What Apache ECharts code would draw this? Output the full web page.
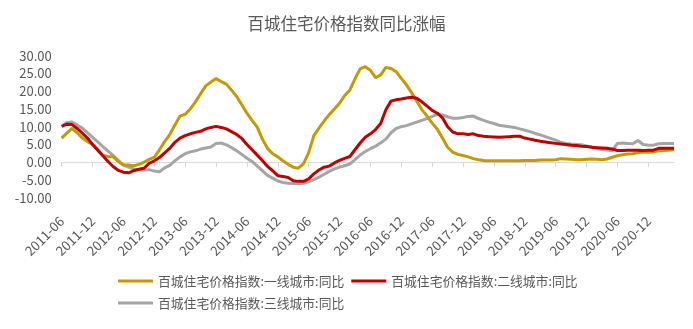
<!DOCTYPE html>
<html>
<head>
<meta charset="utf-8">
<script src="https://cdn.jsdelivr.net/npm/echarts@6/dist/echarts.min.js"></script>
<style>html,body{margin:0;padding:0;background:#fff;}#c{width:693px;height:329px;}</style>
</head>
<body>
<div id="c"></div>
<script>
const categories = [];
for (let y = 2011, m = 6; categories.length < 120; ) {
  categories.push(y + '-' + (m < 10 ? '0' + m : '' + m));
  m++; if (m > 12) { m = 1; y++; }
}
const seriesNames = ['百城住宅价格指数:一线城市:同比', '百城住宅价格指数:二线城市:同比', '百城住宅价格指数:三线城市:同比'];
const tier1 = [6.8,8.2,9.5,8.3,6.8,5.8,5.0,3.5,1.9,1.6,1.5,0.2,-0.8,-0.8,-1.0,-0.6,0.0,0.8,1.4,3.5,
  5.8,7.8,10.5,13.0,13.5,15.0,17.0,19.3,21.5,22.6,23.6,22.7,22.0,20.3,18.5,16.2,13.8,11.8,9.9,6.5,
  3.9,2.4,1.5,0.4,-0.6,-1.4,-1.7,-0.4,2.7,7.5,9.6,11.6,13.4,15.0,16.6,18.8,20.3,23.5,26.3,26.9,
  25.9,23.8,24.6,26.7,26.4,25.5,23.6,21.8,19.6,17.2,14.8,13.0,11.0,9.3,6.8,4.2,2.8,2.2,1.9,1.5,
  1.0,0.7,0.5,0.4,0.4,0.4,0.4,0.4,0.4,0.4,0.5,0.5,0.5,0.6,0.6,0.6,0.7,1.0,0.9,0.8,
  0.7,0.7,0.8,0.9,0.8,0.7,0.9,1.4,1.8,2.1,2.3,2.4,2.7,2.8,2.8,2.9,3.2,3.3,3.4,3.5];
const tier2 = [10.1,10.7,10.6,9.5,8.2,6.8,5.0,3.4,1.8,0.2,-1.2,-2.3,-2.8,-3.0,-2.4,-2.0,-1.7,-0.3,0.4,1.3,
  2.6,3.9,5.6,6.8,7.5,8.0,8.4,8.7,9.4,9.8,10.1,9.8,9.4,8.6,7.8,6.7,5.0,3.5,2.0,0.5,
  -1.2,-2.4,-3.8,-4.0,-4.3,-5.2,-5.4,-5.4,-4.7,-3.3,-2.2,-1.4,-1.1,-0.2,0.5,1.1,1.6,3.5,5.4,7.0,
  8.0,9.2,10.9,14.8,17.2,17.6,17.8,18.1,18.3,18.0,17.0,15.8,14.6,13.8,12.5,10.0,8.5,8.0,8.0,7.8,
  8.0,7.5,7.3,7.2,7.1,7.0,7.1,7.2,7.3,7.3,6.8,6.5,6.2,5.9,5.7,5.5,5.3,5.1,5.0,4.8,
  4.7,4.5,4.4,4.2,4.1,4.0,3.9,3.7,3.3,3.3,3.4,3.4,3.4,3.3,3.4,3.4,3.9,3.9,3.9,3.9];
const tier3 = [10.1,11.2,11.3,10.5,9.6,8.3,7.0,5.7,4.4,3.1,1.9,0.5,-0.8,-1.4,-1.9,-2.1,-2.2,-2.1,-2.5,-2.7,
  -1.6,-0.9,0.4,1.5,2.4,2.9,3.2,3.7,4.0,4.3,5.3,5.4,4.9,4.1,3.2,2.2,1.1,0.2,-1.1,-2.4,
  -3.7,-4.5,-5.3,-5.7,-5.9,-6.0,-6.1,-5.9,-5.5,-4.9,-4.2,-3.4,-2.6,-1.9,-1.4,-1.0,-0.5,0.7,2.0,3.0,
  3.8,4.5,5.5,6.5,8.3,9.5,10.0,10.3,10.8,11.3,11.8,12.3,12.9,13.5,13.3,12.8,12.4,12.4,12.6,12.9,
  13.0,12.3,11.8,11.3,10.9,10.4,10.2,10.0,9.8,9.4,9.0,8.6,8.1,7.7,7.2,6.7,6.2,5.6,5.3,5.1,
  5.0,4.9,4.6,4.3,3.9,3.6,3.4,3.2,5.3,5.4,5.3,5.2,6.1,5.0,4.8,4.8,5.2,5.3,5.3,5.3];
const yTicks = { min: -10, max: 30, interval: 5 };
const colors = ['#C49A00', '#C00000', '#A5A5A5'];
const seriesData = [tier1, tier2, tier3];

const font = '"Noto Sans CJK SC", "Microsoft YaHei", sans-serif';
const chart = echarts.init(document.getElementById('c'), null, { renderer: 'canvas' });
chart.setOption({
  animation: false,
  backgroundColor: '#ffffff',
  textStyle: { fontFamily: font },
  title: {
    text: '百城住宅价格指数同比涨幅',
    left: 'center', top: 10,
    textStyle: { fontFamily: font, fontSize: 16.5, fontWeight: 'normal', color: '#595959' }
  },
  legend: {
    left: 113, top: 268.5, width: 500,
    itemWidth: 35, itemHeight: 3, itemGap: 7,
    icon: 'rect',
    textStyle: { fontFamily: font, fontSize: 12.8, color: '#595959', lineHeight: 15 },
    data: seriesNames
  },
  grid: { left: 61.7, right: 19, top: 55.7, bottom: 131.3, containLabel: false },
  xAxis: [
    {
      type: 'category', data: categories, boundaryGap: false,
      axisLine: { onZero: true, lineStyle: { color: '#D9D9D9', width: 1 } },
      axisTick: { show: true, interval: 5, length: 5, lineStyle: { color: '#D9D9D9' } },
      axisLabel: { show: false },
      splitLine: { show: false }
    },
    {
      type: 'category', data: categories, boundaryGap: false, position: 'bottom',
      axisLine: { show: false, onZero: false },
      axisTick: { show: false },
      axisLabel: { interval: 5, rotate: 45, margin: 21, fontSize: 13.3, color: '#595959', fontFamily: font },
      splitLine: { show: false }
    }
  ],
  yAxis: {
    type: 'value', min: yTicks.min, max: yTicks.max, interval: yTicks.interval,
    axisLine: { show: false }, axisTick: { show: false }, splitLine: { show: false },
    axisLabel: { margin: 10, fontSize: 13, color: '#595959', fontFamily: font,
      formatter: v => v.toFixed(2) }
  },
  series: seriesNames.map((n, k) => ({
    name: n, type: 'line', data: seriesData[k], showSymbol: false, symbol: 'none',
    lineStyle: { width: 3, color: colors[k] }, itemStyle: { color: colors[k] },
    z: k === 0 ? 3 : (k === 1 ? 4 : 2)
  }))
});
</script>
</body>
</html>
